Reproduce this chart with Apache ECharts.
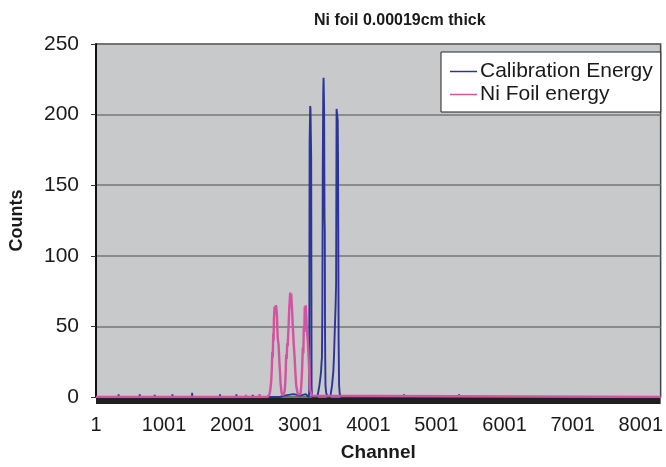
<!DOCTYPE html>
<html>
<head>
<meta charset="utf-8">
<script src="https://cdn.jsdelivr.net/npm/echarts@6/dist/echarts.min.js"></script>
<style>html,body{margin:0;padding:0;background:#fff;}#c{width:666px;height:467px;}</style>
</head>
<body>
<div id="c"></div>
<script>
// ---- data ----
const chartTitle = "Ni foil 0.00019cm thick";
const xAxisName = "Channel";
const yAxisName = "Counts";
const seriesNames = ["Calibration Energy", "Ni Foil energy"];
const channelMax = 8292;

// Calibration Energy (blue)
const calibChannel = [0, 330, 332, 334, 640, 642, 644, 860, 862, 864, 1120, 1122, 1124, 1410, 1412, 1414, 1820, 1822, 1824, 2060, 2062, 2064, 2300, 2302, 2304,
  2700, 2760, 2900, 3000, 3080, 3126, 3132, 3134, 3137, 3146, 3150, 3160, 3163, 3166, 3172,
  3250, 3266, 3280, 3291, 3305, 3312, 3318, 3324, 3330, 3337, 3342, 3350, 3356, 3360, 3364, 3370, 3380, 3400,
  3440, 3450, 3466, 3485, 3496, 3502, 3510, 3518, 3526, 3533, 3540, 3550, 3554, 3558, 3563, 3570, 3580, 3600,
  4520, 4522, 4524, 5330, 5332, 5334, channelMax];
const calibCounts = [0, 0, 2, 0, 0, 2, 0, 0, 1.5, 0, 0, 2, 0, 0, 3, 0, 0, 2, 0, 0, 2, 0, 0, 1.5, 0,
  0, 1, 2, 1, 2, 0, 5, 100, 180, 206, 204, 170, 90, 8, 0,
  0, 4, 8, 12, 18, 24, 28, 60, 160, 215, 226, 205, 127, 118, 40, 8, 3, 0,
  0, 3, 8, 18, 30, 40, 52, 64, 80, 204, 205, 196, 170, 120, 40, 8, 2, 0,
  0, 2, 0, 0, 2, 0, 0];

// Ni Foil energy (pink)
const niChannel = [0, 2200, 2202, 2204, 2400, 2402, 2404, 2520,
  2549, 2562, 2574, 2582, 2589, 2596, 2603, 2608, 2613, 2623, 2633, 2643, 2650, 2657, 2664, 2672, 2681, 2688, 2696, 2703, 2710, 2725, 2745,
  2760, 2770, 2779, 2786, 2793, 2800, 2808, 2815, 2823, 2830, 2837, 2845, 2852, 2860, 2867, 2874, 2881, 2888, 2896, 2903, 2910, 2918, 2925, 2940, 2964,
  2985, 3003, 3013, 3023, 3030, 3037, 3045, 3052, 3059, 3066, 3074, 3081, 3088, 3096, 3103, 3110, 3118, 3125, 3135, 3144, 3169,
  channelMax];
const niCounts = [0, 0, 1.5, 0, 0, 2, 0, 0,
  2, 6, 12, 20, 32, 28, 45, 40, 55, 64, 60, 65, 62, 58, 47, 40, 37, 30, 22, 17, 10, 3, 1,
  2, 4, 10, 18, 30, 27, 38, 36, 45, 52, 62, 68, 74, 70, 73, 66, 60, 52, 45, 38, 33, 27, 20, 8, 2,
  1, 2, 7, 15, 24, 35, 31, 50, 46, 64, 60, 65, 57, 48, 44, 40, 33, 25, 14, 5, 1,
  0];

const yTicks = [0, 50, 100, 150, 200, 250];

function pairs(xs, ys) { return xs.map((x, i) => [x, ys[i]]); }

const FONT = "'Liberation Sans', Arial, sans-serif";
const chart = echarts.init(document.getElementById('c'), null, {renderer: 'canvas'});
chart.setOption({
  animation: false,
  backgroundColor: '#ffffff',
  title: {
    text: chartTitle,
    left: 314, top: 13, padding: 0,
    textStyle: {fontFamily: FONT, fontSize: 16, fontWeight: 'bold', color: '#1a1a1a'}
  },
  legend: {
    orient: 'vertical',
    left: 441, top: 52,
    padding: [9, 8, 7, 9],
    itemGap: 2,
    icon: 'rect',
    itemWidth: 27, itemHeight: 1.5,
    backgroundColor: '#ffffff',
    borderColor: '#222222', borderWidth: 1, borderRadius: 0,
    textStyle: {fontFamily: FONT, fontSize: 21, color: '#1a1a1a', padding: [0, 0, 0, -2]},
    data: seriesNames
  },
  grid: {
    left: 96, right: 3, top: 44, bottom: 68.5,
    show: true, backgroundColor: '#C8C9CB', borderColor: '#444', borderWidth: 1.5
  },
  xAxis: {
    type: 'value', min: 0, max: channelMax, interval: 1000,
    offset: 3.5,
    name: xAxisName, nameLocation: 'middle', nameGap: 42.5,
    nameTextStyle: {fontFamily: FONT, fontSize: 19, fontWeight: 'bold', color: '#1a1a1a'},
    axisLine: {show: true, onZero: false, lineStyle: {color: '#1f1f1f', width: 6, cap: 'butt'}},
    axisTick: {show: false},
    axisLabel: {fontFamily: FONT, fontSize: 20, color: '#1a1a1a', margin: 14.5, showMaxLabel: false,
      formatter: v => String(v + 1)},
    splitLine: {show: false}
  },
  yAxis: {
    type: 'value', min: yTicks[0], max: yTicks[yTicks.length - 1], interval: 50,
    name: yAxisName, nameLocation: 'middle', nameGap: 70,
    nameTextStyle: {fontFamily: FONT, fontSize: 18, fontWeight: 'bold', color: '#1a1a1a'},
    axisLine: {show: true, lineStyle: {color: '#111', width: 2}},
    axisTick: {show: true, length: 5, lineStyle: {color: '#333', width: 1}},
    axisLabel: {fontFamily: FONT, fontSize: 21, color: '#1a1a1a', margin: 17},
    splitLine: {show: true, lineStyle: {color: '#767676', width: 1.5}}
  },
  series: [
    {
      name: seriesNames[0], type: 'line', symbol: 'none',
      data: pairs(calibChannel, calibCounts),
      lineStyle: {color: '#2B3596', width: 1.9}, itemStyle: {color: '#2B3596'}
    },
    {
      name: seriesNames[1], type: 'line', symbol: 'none',
      data: pairs(niChannel, niCounts),
      lineStyle: {color: '#D4529F', width: 2.4}, itemStyle: {color: '#D4529F'}
    }
  ]
});
</script>
</body>
</html>
